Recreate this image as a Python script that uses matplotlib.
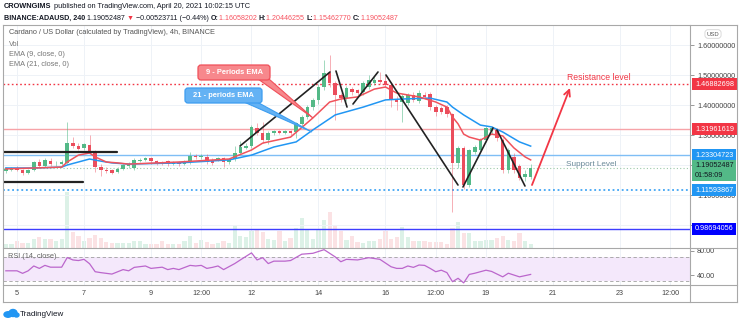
import numpy as np
import matplotlib
matplotlib.use('Agg')
import matplotlib.pyplot as plt
import matplotlib.transforms as mtransforms
from matplotlib.patches import FancyBboxPatch, Polygon, Ellipse
from matplotlib.lines import Line2D

plt.rcParams['font.family'] = ['Liberation Sans', 'DejaVu Sans']

# ------------------------------------------------------------------ data
first_candle_day = 4 + 16 / 24      # April 4, 16:00 UTC
candle_hours = 4

opens = [1.180, 1.185, 1.188, 1.184, 1.174, 1.183, 1.210, 1.197, 1.214, 1.202,
         1.205, 1.208, 1.273, 1.262, 1.257, 1.267, 1.245, 1.195, 1.185, 1.182,
         1.176, 1.188, 1.196, 1.190, 1.215, 1.217, 1.222, 1.213, 1.210, 1.212,
         1.205, 1.210, 1.203, 1.210, 1.230, 1.226, 1.228, 1.216, 1.216, 1.222,
         1.210, 1.220, 1.240, 1.258, 1.263, 1.323, 1.307, 1.283, 1.306, 1.312,
         1.308, 1.312, 1.310, 1.337, 1.360, 1.393, 1.417, 1.460, 1.507, 1.473,
         1.433, 1.423, 1.453, 1.450, 1.443, 1.460, 1.473, 1.483, 1.480, 1.467,
         1.420, 1.410, 1.407, 1.433, 1.415, 1.433, 1.437, 1.393, 1.390, 1.393,
         1.370, 1.207, 1.257, 1.133, 1.243, 1.250, 1.283, 1.313, 1.317, 1.283,
         1.183, 1.227, 1.197, 1.160, 1.16058202]
highs = [1.192, 1.195, 1.196, 1.188, 1.186, 1.215, 1.220, 1.222, 1.222, 1.212,
         1.216, 1.343, 1.295, 1.272, 1.275, 1.300, 1.250, 1.205, 1.192, 1.188,
         1.192, 1.205, 1.210, 1.222, 1.225, 1.228, 1.228, 1.217, 1.215, 1.218,
         1.214, 1.215, 1.216, 1.245, 1.236, 1.236, 1.238, 1.222, 1.228, 1.226,
         1.225, 1.262, 1.280, 1.272, 1.335, 1.340, 1.345, 1.315, 1.318, 1.316,
         1.318, 1.318, 1.345, 1.366, 1.400, 1.425, 1.470, 1.550, 1.567, 1.480,
         1.440, 1.465, 1.460, 1.455, 1.480, 1.500, 1.495, 1.510, 1.500, 1.472,
         1.430, 1.437, 1.440, 1.445, 1.450, 1.443, 1.445, 1.400, 1.398, 1.400,
         1.375, 1.265, 1.262, 1.255, 1.268, 1.290, 1.330, 1.330, 1.322, 1.290,
         1.258, 1.240, 1.205, 1.185, 1.20446255]
lows = [1.175, 1.180, 1.180, 1.168, 1.170, 1.180, 1.190, 1.192, 1.198, 1.196,
        1.200, 1.205, 1.258, 1.250, 1.250, 1.240, 1.177, 1.163, 1.172, 1.170,
        1.172, 1.182, 1.190, 1.185, 1.210, 1.212, 1.205, 1.200, 1.200, 1.198,
        1.200, 1.198, 1.200, 1.205, 1.220, 1.220, 1.205, 1.200, 1.212, 1.195,
        1.205, 1.215, 1.236, 1.252, 1.258, 1.300, 1.275, 1.270, 1.300, 1.302,
        1.303, 1.300, 1.290, 1.330, 1.355, 1.385, 1.405, 1.450, 1.460, 1.350,
        1.410, 1.415, 1.435, 1.432, 1.435, 1.455, 1.468, 1.470, 1.460, 1.395,
        1.385, 1.343, 1.400, 1.410, 1.408, 1.420, 1.385, 1.365, 1.370, 1.360,
        1.043, 1.190, 1.120, 1.128, 1.238, 1.245, 1.278, 1.305, 1.280, 1.175,
        1.175, 1.175, 1.150, 1.148, 1.15462770]
closes = [1.187, 1.188, 1.184, 1.174, 1.183, 1.210, 1.196, 1.217, 1.202, 1.205,
          1.210, 1.273, 1.262, 1.255, 1.270, 1.245, 1.195, 1.185, 1.180, 1.175,
          1.188, 1.200, 1.205, 1.217, 1.218, 1.223, 1.212, 1.207, 1.205, 1.203,
          1.209, 1.203, 1.210, 1.230, 1.226, 1.230, 1.210, 1.208, 1.222, 1.210,
          1.220, 1.240, 1.260, 1.263, 1.327, 1.307, 1.283, 1.307, 1.312, 1.308,
          1.312, 1.307, 1.340, 1.360, 1.393, 1.417, 1.460, 1.507, 1.473, 1.433,
          1.423, 1.457, 1.443, 1.440, 1.473, 1.483, 1.483, 1.477, 1.467, 1.417,
          1.410, 1.430, 1.433, 1.417, 1.440, 1.427, 1.393, 1.377, 1.377, 1.370,
          1.207, 1.257, 1.133, 1.250, 1.260, 1.283, 1.323, 1.323, 1.290, 1.183,
          1.250, 1.183, 1.157, 1.170, 1.19052487]
volumes_m = [4, 4, 7, 5, 5, 9, 11, 9, 9, 7, 9, 55, 16, 12, 7, 10, 13, 10, 6, 5,
             5, 5, 5, 7, 7, 4, 4, 4, 7, 4, 4, 4, 7, 12, 5, 8, 6, 4, 5, 7,
             5, 23, 12, 11, 17, 18, 16, 9, 8, 17, 7, 10, 20, 30, 18, 9, 18, 28, 36, 23,
             17, 8, 12, 6, 5, 7, 7, 9, 17, 9, 11, 21, 11, 7, 7, 7, 6, 6, 6, 4,
             20, 26, 15, 15, 7, 7, 8, 8, 10, 12, 8, 7, 15, 7, 4]

ema9_idx = [0, 5, 10, 11, 13, 15, 16, 18, 20, 22, 31, 40, 44, 46, 51, 55, 58, 60,
            63, 66, 68, 70, 74, 77, 79, 80, 81, 82, 83, 85, 87, 89, 91, 93, 94]
ema9_val = [1.187, 1.190, 1.193, 1.210, 1.233, 1.240, 1.227, 1.210, 1.207, 1.203,
            1.210, 1.220, 1.250, 1.273, 1.293, 1.357, 1.410, 1.420, 1.427, 1.453,
            1.460, 1.440, 1.427, 1.410, 1.393, 1.360, 1.337, 1.303, 1.293, 1.283,
            1.303, 1.297, 1.257, 1.227, 1.217]
ema21_idx = [0, 5, 10, 11, 15, 17, 19, 22, 31, 40, 44, 48, 52, 55, 59, 64, 68, 71,
             76, 79, 80, 82, 85, 87, 89, 92, 94]
ema21_val = [1.190, 1.190, 1.193, 1.200, 1.220, 1.213, 1.207, 1.203, 1.207, 1.217,
             1.233, 1.260, 1.277, 1.317, 1.367, 1.393, 1.417, 1.420, 1.423, 1.410,
             1.393, 1.367, 1.333, 1.327, 1.310, 1.277, 1.263]

rsi_idx = [0, 2, 3, 4, 5, 6, 7, 8, 10, 11, 12, 13, 14, 15, 16, 17, 19, 21, 22, 23,
           25, 26, 28, 29, 30, 31, 33, 34, 35, 36, 37, 38, 39, 41, 42, 44, 45, 46, 47, 48,
           50, 51, 53, 55, 57, 59, 60, 61, 63, 65, 67, 69, 70, 71, 72, 73, 74, 75, 76, 77,
           78, 79, 80, 81, 82, 83, 84, 86, 87, 89, 90, 92, 94]
rsi_val = [47, 47, 42.8, 47, 55, 51, 56, 53, 53, 69, 65, 64, 66, 58.7, 45.5, 44, 41.6, 49, 47, 52.7,
           55, 51, 53, 49, 51, 49, 56, 55, 56, 51, 52.7, 55, 49, 59, 65, 76.7, 65, 68.7, 59, 63,
           63, 64, 74.5, 76, 82, 70, 62, 66, 65, 68.7, 66, 53.7, 51, 51, 55, 52.7, 56.6, 56, 51, 45.5,
           48, 44, 29, 34.6, 27, 41, 43, 48, 46, 37, 43, 37, 41]

levels = [1.46882698, 1.31961619, 1.23304723, 1.19052487, 1.11593867, 0.98694056]
level_labels = ['1.46882698', '1.31961619', '1.23304723', '1.19052487\n01:58:09',
                '1.11593867', '0.98694056']

price_ticks = [1.0, 1.1, 1.2, 1.3, 1.4, 1.5, 1.6]
price_tick_labels = ['1.00000000', '1.10000000', '', '1.30000000', '1.40000000',
                     '1.50000000', '1.60000000']
rsi_ticks = [40, 80]
rsi_tick_labels = ['40.00', '80.00']
time_tick_days = [5, 7, 9, 10.5, 12, 14, 16, 17.5, 19, 21, 23, 24.5]
time_tick_labels = ['5', '7', '9', '12:00', '12', '14', '16', '12:00', '19', '21', '23', '12:00']

# drawings (day, price)
trend_lines = [((4.582, 1.2433), (7.985, 1.2433)),
               ((4.582, 1.1433), (6.970, 1.1433)),
               ((11.657, 1.2633), (14.343, 1.5100)),
               ((14.522, 1.5133), (14.851, 1.3933)),
               ((15.030, 1.4033), (15.776, 1.5100)),
               ((16.015, 1.5000), (18.164, 1.1333)),
               ((18.313, 1.1267), (19.209, 1.3233)),
               ((19.328, 1.3167), (20.164, 1.1300))]
red_arrow = ((20.373, 1.1333), (21.507, 1.4567))

# ------------------------------------------------------------------ styles
GREEN = '#53b987'
RED = '#eb4d5c'
level_styles = [dict(color='#f23645', ls=(0, (1.2, 1.8)), lw=1.0),
                dict(color='#f7a3a8', ls='-', lw=1.0),
                dict(color='#7fbef5', ls='-', lw=1.0),
                dict(color='#9cc9a8', ls=(0, (1, 2)), lw=0.8),
                dict(color='#2196f3', ls=(0, (1.2, 1.8)), lw=1.1),
                dict(color='#3d3dff', ls='-', lw=1.0)]
label_styles = [('#f23645', 'white'), ('#f23645', 'white'), ('#2196f3', 'white'),
                ('#53b987', '#131722'), ('#2196f3', 'white'), ('#0000ff', 'white')]

W, H = 740, 323
fig = plt.figure(figsize=(W / 100, H / 100), dpi=100)
fig.patch.set_facecolor('white')
PX = mtransforms.Affine2D().scale(1 / W, -1 / H).translate(0, 1) + fig.transFigure


def fx(x):
    return x / W


def fy(y):
    return 1 - y / H


X0, X1 = 3, 690
ax = fig.add_axes([fx(X0), fy(247.5), (X1 - X0) / W, 222.5 / H])
axr = fig.add_axes([fx(X0), fy(285), (X1 - X0) / W, 37.5 / H])
XL = (4.582, 25.09)

t = first_candle_day + np.arange(len(closes)) * candle_hours / 24
o = np.array(opens); c = np.array(closes); hi = np.array(highs); lo = np.array(lows)
up = c >= o
cols = np.where(up, GREEN, RED)

# volume overlay
axv = ax.twinx()
vcols = [(0.33, 0.73, 0.53, 0.2) if u else (0.92, 0.30, 0.36, 0.16) for u in up]
axv.bar(t, volumes_m, width=0.125, color=vcols, linewidth=0)
axv.set_ylim(0, max(volumes_m) * 222.5 / 55)
axv.axis('off')
ax.set_zorder(axv.get_zorder() + 1)
ax.patch.set_visible(False)

# grid
for d in time_tick_days:
    ax.axvline(d, color='#eef2f7', lw=0.7, zorder=0)
    axr.axvline(d, color='#eef2f7', lw=0.7, zorder=0)
for p in price_ticks:
    ax.axhline(p, color='#eef2f7', lw=0.7, zorder=0)

# level lines
for lv, st in zip(levels, level_styles):
    ax.axhline(lv, zorder=1, **st)

# candles
wick_cols = [(0.33, 0.73, 0.53, 0.55) if u else (0.92, 0.30, 0.36, 0.45) for u in up]
ax.vlines(t, lo, hi, colors=wick_cols, lw=0.7, zorder=2)
body_h = np.maximum(np.abs(c - o), 0.0025)
ax.bar(t, body_h, bottom=np.minimum(o, c), width=0.105, color=cols, linewidth=0, zorder=3)

# EMAs
ax.plot(t[ema21_idx], ema21_val, color='#2196f3', lw=1.1, zorder=4)
ax.plot(t[ema9_idx], ema9_val, color='#f0535c', lw=1.1, zorder=4)

# drawings
for (d0, p0), (d1, p1) in trend_lines:
    lw = 1.6 if p0 == p1 else 1.2
    ax.plot([d0, d1], [p0, p1], color='#222222', lw=lw, zorder=5, solid_capstyle='round')
ax.annotate('', xy=red_arrow[1], xytext=red_arrow[0],
            arrowprops=dict(arrowstyle='->', color='#f23645', lw=1.3, mutation_scale=11,
                            shrinkA=0, shrinkB=0), zorder=5)

ax.set_xlim(*XL)
ax.set_ylim(0.925, 1.6667)
ax.yaxis.tick_right()
ax.set_yticks(price_ticks)
ax.set_yticklabels(price_tick_labels)
ax.tick_params(axis='y', length=3, width=0.6, color='#888', labelsize=5.2,
               labelcolor='#444', pad=2)
ax.tick_params(axis='x', length=0, labelbottom=False)
ax.set_xticks(time_tick_days)
for s in ax.spines.values():
    s.set_visible(False)

# price labels on axis
btr = mtransforms.blended_transform_factory(fig.transFigure, ax.transData)
for lv, lab, (bg, fg) in zip(levels, level_labels, label_styles):
    if '\n' in lab:
        tt = ax.text(fx(695), lv, lab, transform=btr, fontsize=5.2, color=fg, va='top',
                     ha='left', clip_on=False, zorder=10, linespacing=1.5,
                     bbox=dict(boxstyle='square,pad=0.35', fc=bg, ec='none'))
        tt.set_transform(btr + mtransforms.ScaledTranslation(0, 5.5 / 100, fig.dpi_scale_trans))
    else:
        ax.text(fx(695), lv, lab, transform=btr, fontsize=5.2, color=fg, va='center',
                ha='left', clip_on=False, zorder=10,
                bbox=dict(boxstyle='square,pad=0.35', fc=bg, ec='none'))

# RSI pane
axr.axhspan(30, 70, color='#f4e8fb', zorder=0, lw=0)
axr.axhline(70, color='#a0a0a0', lw=0.6, ls=(0, (4, 3)), zorder=1)
axr.axhline(30, color='#a0a0a0', lw=0.6, ls=(0, (4, 3)), zorder=1)
axr.plot(t[rsi_idx], rsi_val, color='#bb66cc', lw=0.9, zorder=3)
axr.set_xlim(*XL)
axr.set_ylim(23.5, 85.6)
axr.yaxis.tick_right()
axr.set_yticks(rsi_ticks)
axr.set_yticklabels(rsi_tick_labels)
axr.tick_params(axis='y', length=3, width=0.6, color='#888', labelsize=5.2,
                labelcolor='#444', pad=2)
axr.set_xticks(time_tick_days)
axr.set_xticklabels(time_tick_labels)
axr.tick_params(axis='x', length=0, labelsize=5.2, labelcolor='#444', pad=3.5)
for s in axr.spines.values():
    s.set_visible(False)
axr.patch.set_visible(False)

# frame
frame_col = '#a8a8a8'
for (xa, ya), (xb, yb) in [((3, 25), (737, 25)), ((3, 302), (737, 302)), ((3, 25), (3, 302)),
                           ((737, 25), (737, 302)), ((690, 25), (690, 302)),
                           ((3, 247.5), (737, 247.5)), ((3, 285), (737, 285))]:
    fig.add_artist(Line2D([xa, xb], [ya, yb], transform=PX, color=frame_col, lw=0.8))

# USD badge
fig.text(fx(713), fy(34), 'USD', fontsize=4.2, color='#555', ha='center', va='center',
         bbox=dict(boxstyle='round,pad=0.3,rounding_size=0.5', fc='white', ec='#cccccc', lw=0.5))

# legends
fig.text(fx(9), fy(33), 'Cardano / US Dollar (calculated by TradingView), 4h, BINANCE',
         fontsize=5.3, color='#555', va='center')
fig.text(fx(9), fy(44), 'Vol', fontsize=5.3, color='#777', va='center')
fig.text(fx(9), fy(54), 'EMA (9, close, 0)', fontsize=5.3, color='#777', va='center')
fig.text(fx(9), fy(64), 'EMA (21, close, 0)', fontsize=5.3, color='#777', va='center')
fig.text(fx(8), fy(257), 'RSI (14, close)', fontsize=5.3, color='#666', va='center')

# header with chained pieces
renderer = fig.canvas.get_renderer()


def chain(x, y, parts, size=5.3):
    for s, col, wt in parts:
        tx = fig.text(fx(x), fy(y), s, color=col, fontsize=size, fontweight=wt,
                      va='center', ha='left')
        x += tx.get_window_extent(renderer).width
    return x


chain(4, 7, [('CROWNGIMS', '#131722', 'bold'),
             (' published on TradingView.com, April 20, 2021 10:02:15 UTC', '#131722', 'normal')])
vc = '#f7525f'
chain(4, 18, [('BINANCE:ADAUSD, 240', '#131722', 'bold'),
              (' 1.19052487 ', '#131722', 'normal'), ('\u25bc', '#f23645', 'normal'),
              (' \u22120.00523711 (\u22120.44%) ', '#131722', 'normal'),
              ('O:', '#131722', 'bold'), ('1.16058202 ', vc, 'normal'),
              ('H:', '#131722', 'bold'), ('1.20446255 ', vc, 'normal'),
              ('L:', '#131722', 'bold'), ('1.15462770 ', vc, 'normal'),
              ('C:', '#131722', 'bold'), ('1.19052487', vc, 'normal')], size=5.15)

# callouts
fig.add_artist(Polygon([(258, 79), (269, 79), (313, 118)], closed=True, transform=PX,
                       fc='#f7888c', ec='#f0505a', lw=0.8, zorder=5))
fig.add_artist(FancyBboxPatch((198, 65), 72, 15, boxstyle='round,pad=0,rounding_size=3',
                              transform=PX, fc='#f7888c', ec='#f0505a', lw=0.9, zorder=6))
fig.text(fx(234), fy(72.5), '9 - Periods EMA', fontsize=5.4, color='white',
         fontweight='bold', ha='center', va='center', zorder=7)
fig.add_artist(Polygon([(244, 102), (257, 102), (312, 132)], closed=True, transform=PX,
                       fc='#64b2f4', ec='#3d9df0', lw=0.8, zorder=5))
fig.add_artist(FancyBboxPatch((185, 88), 77, 15, boxstyle='round,pad=0,rounding_size=3',
                              transform=PX, fc='#64b2f4', ec='#3d9df0', lw=0.9, zorder=6))
fig.text(fx(223.5), fy(95.5), '21 - periods EMA', fontsize=5.4, color='white',
         fontweight='bold', ha='center', va='center', zorder=7)

fig.text(fx(567), fy(77), 'Resistance level', fontsize=6.2, color='#f23645', va='center')
fig.text(fx(566), fy(165), 'Support Level', fontsize=5.9, color='#6b8a99', va='center')

# TradingView logo
fig.add_artist(Ellipse((8, 314.5), 8, 5.5, transform=PX, color='#2196f3'))
fig.add_artist(Ellipse((13, 313), 8, 7, transform=PX, color='#2196f3'))
fig.add_artist(Ellipse((16.5, 315), 5, 4, transform=PX, color='#2196f3'))
fig.text(fx(20), fy(314), 'TradingView', fontsize=5.8, color='#131722', va='center')

fig.savefig('out.png', dpi=100, facecolor='white')
